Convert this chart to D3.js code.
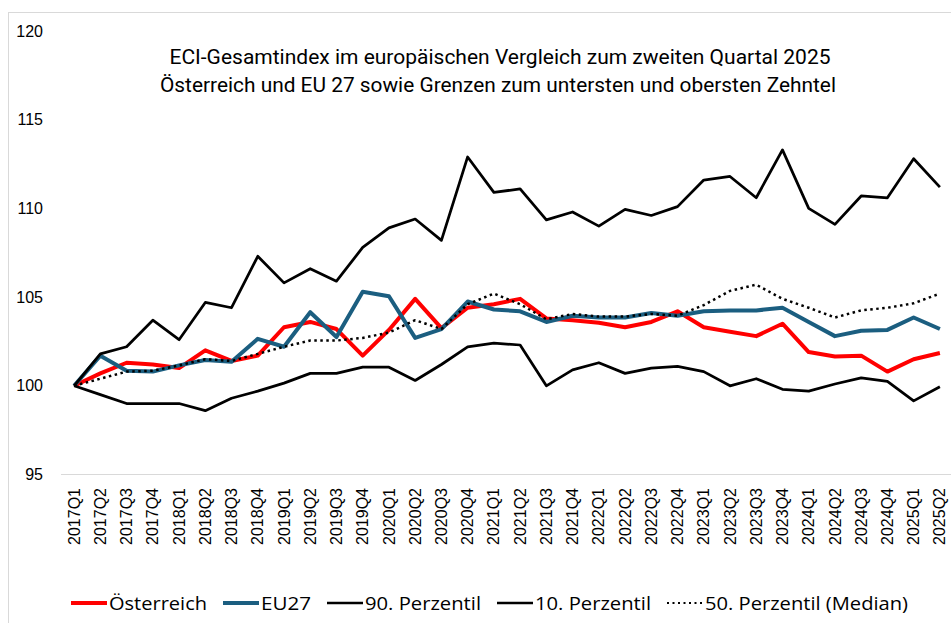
<!DOCTYPE html>
<html>
<head>
<meta charset="utf-8">
<script src="https://cdn.jsdelivr.net/npm/d3@7"></script>
<style>
  body { margin: 0; background: #fff; }
  text { fill: #000; }
</style>
</head>
<body>
<div id="chart"></div>
<script>
const quartale = ["2017Q1","2017Q2","2017Q3","2017Q4","2018Q1","2018Q2","2018Q3","2018Q4",
  "2019Q1","2019Q2","2019Q3","2019Q4","2020Q1","2020Q2","2020Q3","2020Q4",
  "2021Q1","2021Q2","2021Q3","2021Q4","2022Q1","2022Q2","2022Q3","2022Q4",
  "2023Q1","2023Q2","2023Q3","2023Q4","2024Q1","2024Q2","2024Q3","2024Q4",
  "2025Q1","2025Q2"];

const oesterreich = [100, 100.7, 101.3, 101.2, 101.0, 102.0, 101.4, 101.7,
  103.3, 103.6, 103.2, 101.7, 103.15, 104.9, 103.25, 104.4,
  104.6, 104.9, 103.8, 103.7, 103.55, 103.3, 103.6, 104.2,
  103.3, 103.05, 102.8, 103.5, 101.9, 101.65, 101.7, 100.8,
  101.5, 101.85];

const eu27 = [100, 101.7, 100.85, 100.8, 101.15, 101.45, 101.35, 102.65,
  102.2, 104.15, 102.75, 105.3, 105.05, 102.7, 103.2, 104.75,
  104.3, 104.2, 103.6, 103.95, 103.85, 103.85, 104.1, 103.95,
  104.2, 104.25, 104.25, 104.4, 103.6, 102.8, 103.1, 103.15,
  103.85, 103.2];

const perzentil90 = [100, 101.8, 102.2, 103.7, 102.6, 104.7, 104.4, 107.3,
  105.8, 106.6, 105.9, 107.8, 108.9, 109.4, 108.2, 112.9,
  110.9, 111.1, 109.35, 109.8, 109.0, 109.95, 109.6, 110.1,
  111.6, 111.8, 110.6, 113.3, 110.0, 109.1, 110.7, 110.6,
  112.8, 111.2];

const perzentil10 = [100, 99.5, 99.0, 99.0, 99.0, 98.6, 99.3, 99.7,
  100.15, 100.7, 100.7, 101.05, 101.05, 100.3, 101.2, 102.2,
  102.4, 102.3, 100.0, 100.9, 101.3, 100.7, 101.0, 101.1,
  100.8, 100.0, 100.4, 99.8, 99.7, 100.1, 100.45, 100.25,
  99.15, 99.95];

const median = [100, 100.4, 100.8, 100.85, 101.15, 101.5, 101.4, 101.8,
  102.2, 102.55, 102.55, 102.7, 103.0, 103.7, 103.2, 104.6,
  105.2, 104.6, 103.75, 104.05, 103.9, 103.9, 104.05, 103.95,
  104.55, 105.35, 105.7, 104.9, 104.4, 103.85, 104.25, 104.4,
  104.65, 105.2];

const yTicks = [95, 100, 105, 110, 115, 120];

const titel = ["ECI-Gesamtindex im europäischen Vergleich zum zweiten Quartal 2025",
  "Österreich und EU 27 sowie Grenzen zum untersten und obersten Zehntel"];

const serien = [
  {name: "Österreich", werte: oesterreich, farbe: "#ff0000", breite: 4, dash: null, textBreite: 98},
  {name: "EU27", werte: eu27, farbe: "#1b5e80", breite: 4, dash: null, textBreite: 50},
  {name: "90. Perzentil", werte: perzentil90, farbe: "#000", breite: 2.75, dash: null, textBreite: 116},
  {name: "10. Perzentil", werte: perzentil10, farbe: "#000", breite: 2.75, dash: null, textBreite: 116},
  {name: "50. Perzentil (Median)", werte: median, farbe: "#000", breite: 2.5, dash: "2.5,3.5", textBreite: 203}
];

const width = 951, height = 623;

const svg = d3.select('#chart').append('svg')
    .attr('width', width)
    .attr('height', height);

// Rahmen
svg.append('rect')
    .attr('x', 8.5).attr('y', 12.5)
    .attr('width', 980).attr('height', 650)
    .attr('fill', 'none')
    .attr('stroke', '#d9d9d9');

let x = d3.scaleBand()
    .domain(quartale)
    .range([61, 953]);

let y = d3.scaleLinear()
    .domain([95, 120])
    .range([474.5, 31]);

const mitte = d => x(d) + x.bandwidth() / 2;

// y-Achse
svg.append('g')
    .selectAll('text')
    .data(yTicks)
    .enter()
    .append('text')
    .attr('x', 43)
    .attr('y', d => y(d))
    .attr('dy', '0.35em')
    .attr('text-anchor', 'end')
    .style('font', '16px "Liberation Sans", Arial, sans-serif')
    .text(d => d);

// x-Achse
svg.append('line')
    .attr('x1', 61).attr('x2', 953)
    .attr('y1', y(95)).attr('y2', y(95))
    .attr('stroke', '#d9d9d9')
    .attr('stroke-width', 1);

svg.append('g')
    .selectAll('text')
    .data(quartale)
    .enter()
    .append('text')
    .attr('transform', d => 'translate(' + mitte(d) + ',488) rotate(-90)')
    .attr('dy', '0.35em')
    .attr('text-anchor', 'end')
    .style('font', '16px "Liberation Sans", Arial, sans-serif')
    .text(d => d);

// Linien
let linie = d3.line()
    .x((d, i) => mitte(quartale[i]))
    .y(d => y(d));

svg.append('g')
    .selectAll('path')
    .data(serien)
    .enter()
    .append('path')
    .attr('d', s => linie(s.werte))
    .attr('fill', 'none')
    .attr('stroke', s => s.farbe)
    .attr('stroke-width', s => s.breite)
    .attr('stroke-dasharray', s => s.dash)
    .attr('stroke-linejoin', 'round');

// Titel
const titelBreite = [661, 676];
svg.append('g')
    .selectAll('text')
    .data(titel)
    .enter()
    .append('text')
    .attr('x', (d, i) => i === 0 ? 500 : 498)
    .attr('y', (d, i) => 64 + i * 28)
    .attr('text-anchor', 'middle')
    .attr('textLength', (d, i) => titelBreite[i])
    .attr('lengthAdjust', 'spacingAndGlyphs')
    .style('font', '21px Roboto, "Liberation Sans", sans-serif')
    .text(d => d);

// Legende
let legende = svg.append('g').attr('class', 'legende');
let lx = 71;
const ly = 603;
serien.forEach(s => {
    legende.append('line')
        .attr('x1', lx).attr('x2', lx + 36)
        .attr('y1', ly).attr('y2', ly)
        .attr('stroke', s.farbe)
        .attr('stroke-width', s.dash ? 2 : (s.breite === 4 ? 4 : 2.5))
        .attr('stroke-dasharray', s.dash ? '2,3.5' : null);
    legende.append('text')
        .attr('x', lx + 38)
        .attr('y', ly + 7)
        .attr('textLength', s.textBreite)
        .attr('lengthAdjust', 'spacingAndGlyphs')
        .style('font', '19px "Open Sans", "Noto Sans", sans-serif')
        .text(s.name);
    lx += 38 + s.textBreite + 16;
});
</script>
</body>
</html>
